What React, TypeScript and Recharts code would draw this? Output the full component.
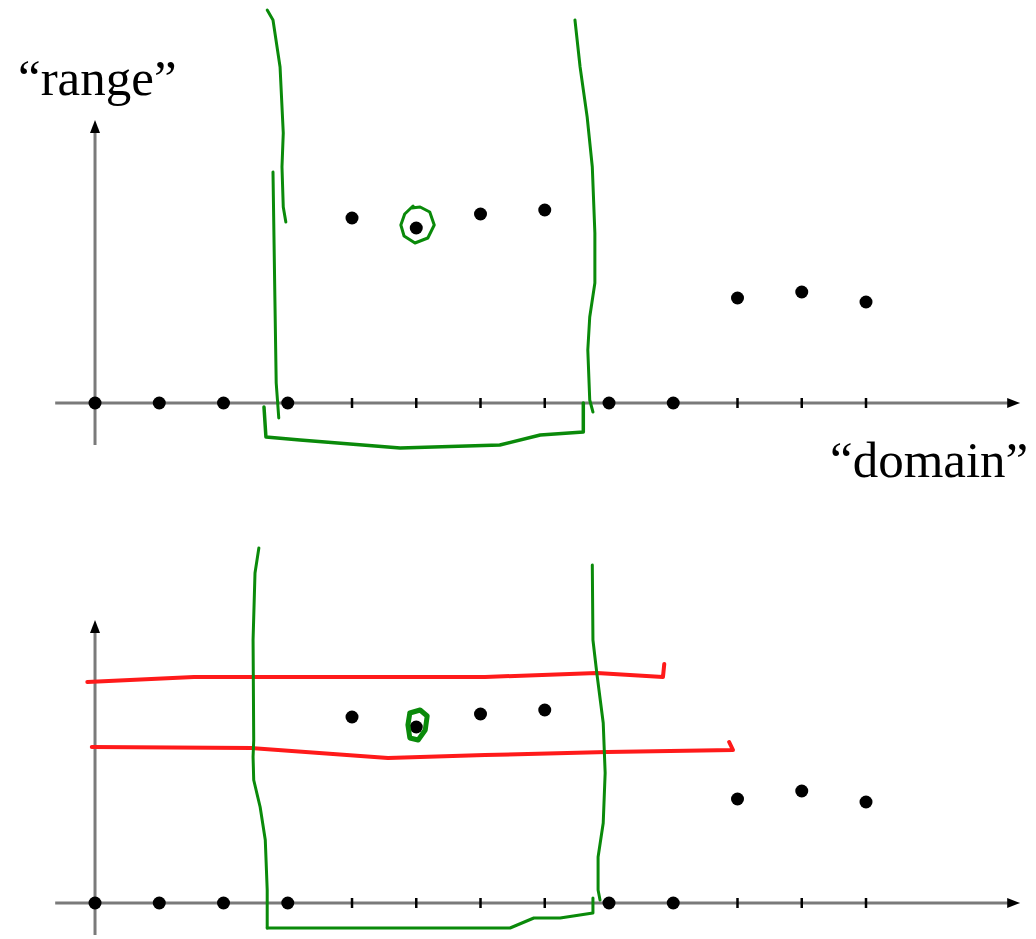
import { ScatterChart, Scatter, XAxis, YAxis } from "recharts";

// domain positions 0..12 and the value each one maps to (0 = sits on the axis)
const INDEX = [0, 1, 2, 3, 4, 5, 6, 7, 8, 9, 10, 11, 12];
const TOP_VALUES = [0, 0, 0, 0, 18.5, 17.5, 18.9, 19.3, 0, 0, 10.5, 11.1, 10.1];
const BOTTOM_VALUES = [0, 0, 0, 0, 18.6, 17.6, 18.9, 19.3, 0, 0, 10.4, 11.2, 10.1];

const X_DOMAIN: [number, number] = [-1.479, 14.646];
const X_AXIS_SPAN = [-0.62, 14.3];
const X_ARROW_TIP = 14.4;

// hand drawn strokes, in chart units (index, value)
const TOP_GREEN_LEFT_A = [[2.68, 39.3], [2.77, 38.3], [2.88, 33.6], [2.93, 27.0], [2.91, 23.6], [2.93, 19.6], [2.97, 18.1]];
const TOP_GREEN_LEFT_B = [[2.77, 23.1], [2.8, 10.3], [2.82, 2.0], [2.86, -1.5]];
const TOP_GREEN_BRACKET = [[2.63, -0.4], [2.66, -3.4], [3.19, -3.7], [4.75, -4.5], [6.3, -4.2], [6.93, -3.2], [7.6, -2.9], [7.6, 0]];
const TOP_GREEN_RIGHT = [[7.47, 38.3], [7.55, 33.6], [7.66, 28.6], [7.74, 23.6], [7.78, 17.0], [7.78, 12.0], [7.7, 8.6], [7.67, 5.3], [7.7, 0.3], [7.75, -0.9]];
const TOP_GREEN_CIRCLE = [[4.93, 19.5], [5.06, 19.6], [5.21, 19.1], [5.28, 17.8], [5.18, 16.5], [4.98, 16.0], [4.81, 16.7], [4.76, 17.8], [4.82, 18.9], [4.95, 19.7]];

const BOT_GREEN_LEFT = [[2.55, 35.5], [2.49, 33.0], [2.46, 26.3], [2.47, 16.3], [2.46, 14.6], [2.47, 12.3], [2.57, 9.6], [2.65, 6.3], [2.68, 1.3], [2.68, -2.5]];
const BOT_GREEN_BRACKET = [[2.68, -2.5], [2.71, -2.5], [6.46, -2.5], [6.83, -1.5], [7.24, -1.5], [7.75, -1.0], [7.75, 0.5]];
const BOT_GREEN_RIGHT = [[7.74, 33.8], [7.75, 26.3], [7.81, 23.0], [7.91, 18.0], [7.94, 13.0], [7.91, 8.0], [7.83, 4.6], [7.83, 1.3], [7.86, 0.3]];
const BOT_GREEN_LOOP = [[4.9, 19.0], [5.06, 19.3], [5.17, 18.7], [5.14, 17.3], [5.03, 16.3], [4.9, 16.5], [4.87, 17.8], [4.9, 19.0]];
const BOT_RED_TOP = [[-0.12, 22.1], [1.54, 22.6], [6.07, 22.6], [7.81, 23.0], [8.84, 22.6], [8.86, 23.9]];
const BOT_RED_BOTTOM = [[-0.05, 15.6], [2.44, 15.5], [4.56, 14.5], [6.07, 14.8], [7.97, 15.1], [9.93, 15.3], [9.87, 16.1]];

const GREEN = "#0a8a0a";
const RED = "#ff1a1a";
const AXIS = "#7a7a7a";

const pts = (a: number[][]) => a.map(([x, y]) => ({ x, y }));
const none = () => <g />;

const Dot = (p: any) => <circle cx={p.cx} cy={p.cy} r={6.5} fill="#000" />;
const Tick = (p: any) => (
  <line x1={p.cx} x2={p.cx} y1={p.cy - 5} y2={p.cy + 5} stroke="#000" strokeWidth={2.5} />
);
const ArrowRight = (p: any) => (
  <path d={`M${p.cx},${p.cy} L${p.cx - 13},${p.cy - 5} L${p.cx - 13},${p.cy + 5} Z`} fill="#000" />
);
const ArrowUp = (p: any) => (
  <path d={`M${p.cx},${p.cy} L${p.cx - 5},${p.cy + 13} L${p.cx + 5},${p.cy + 13} Z`} fill="#000" />
);

interface StrokeDef {
  data: number[][];
  color: string;
  width: number;
  curve?: string;
}

function Stroke({ data, color, width, curve = "linear" }: StrokeDef) {
  return (
    <Scatter
      data={pts(data)}
      fill={color}
      line={{ stroke: color, strokeWidth: width, strokeLinecap: "round", strokeLinejoin: "round", type: curve } as any}
      shape={none}
      isAnimationActive={false}
    />
  );
}

interface PanelProps {
  height: number;
  yDomain: [number, number];
  values: number[];
  yAxis: [number, number];
  strokes: StrokeDef[];
}

function Panel({ height, yDomain, values, yAxis, strokes }: PanelProps) {
  const dots = INDEX.map((x, i) => ({ x, y: values[i] }));
  const ticks = INDEX.filter((_, i) => values[i] !== 0).map((x) => ({ x, y: 0 }));

  return (
    <ScatterChart width={1036} height={height} margin={{ top: 0, right: 0, bottom: 0, left: 0 }}>
      <XAxis type="number" dataKey="x" domain={X_DOMAIN} hide allowDataOverflow />
      <YAxis type="number" dataKey="y" domain={yDomain} hide allowDataOverflow />
      <Scatter
        data={[{ x: X_AXIS_SPAN[0], y: 0 }, { x: X_AXIS_SPAN[1], y: 0 }]}
        fill={AXIS}
        line={{ stroke: AXIS, strokeWidth: 3 }}
        shape={none}
        isAnimationActive={false}
      />
      <Scatter
        data={[{ x: 0, y: yAxis[0] }, { x: 0, y: yAxis[1] - 1 }]}
        fill={AXIS}
        line={{ stroke: AXIS, strokeWidth: 3 }}
        shape={none}
        isAnimationActive={false}
      />
      <Scatter data={[{ x: X_ARROW_TIP, y: 0 }]} shape={ArrowRight} isAnimationActive={false} />
      <Scatter data={[{ x: 0, y: yAxis[1] }]} shape={ArrowUp} isAnimationActive={false} />
      <Scatter data={ticks} shape={Tick} isAnimationActive={false} />
      <Scatter data={dots} shape={Dot} isAnimationActive={false} />
      {strokes.map((s, i) => (
        <Stroke key={i} {...s} />
      ))}
    </ScatterChart>
  );
}

export default function App() {
  const font = { fontFamily: "'Liberation Serif', 'Times New Roman', serif", fontSize: 51, fill: "#000" };
  return (
    <div style={{ position: "absolute", left: 0, top: 0, width: 1036, height: 939, background: "#fff" }}>
      <Panel
        height={510}
        yDomain={[-10.7, 40.3]}
        values={TOP_VALUES}
        yAxis={[-4.2, 28.3]}
        strokes={[
          { data: TOP_GREEN_LEFT_A, color: GREEN, width: 3, curve: "natural" },
          { data: TOP_GREEN_LEFT_B, color: GREEN, width: 3, curve: "natural" },
          { data: TOP_GREEN_BRACKET, color: GREEN, width: 3.5 },
          { data: TOP_GREEN_RIGHT, color: GREEN, width: 3, curve: "natural" },
          { data: TOP_GREEN_CIRCLE, color: GREEN, width: 3, curve: "natural" },
        ]}
      />
      <Panel
        height={429}
        yDomain={[-3.6, 39.3]}
        values={BOTTOM_VALUES}
        yAxis={[-3.2, 28.3]}
        strokes={[
          { data: BOT_RED_TOP, color: RED, width: 4 },
          { data: BOT_RED_BOTTOM, color: RED, width: 4 },
          { data: BOT_GREEN_LEFT, color: GREEN, width: 3, curve: "natural" },
          { data: BOT_GREEN_BRACKET, color: GREEN, width: 3 },
          { data: BOT_GREEN_RIGHT, color: GREEN, width: 3, curve: "natural" },
          { data: BOT_GREEN_LOOP, color: GREEN, width: 5, curve: "natural" },
        ]}
      />
      <svg width={1036} height={939} style={{ position: "absolute", left: 0, top: 0, pointerEvents: "none" }}>
        <text x={18} y={95} {...font}>“range”</text>
        <text x={830} y={477} {...font}>“domain”</text>
      </svg>
    </div>
  );
}
